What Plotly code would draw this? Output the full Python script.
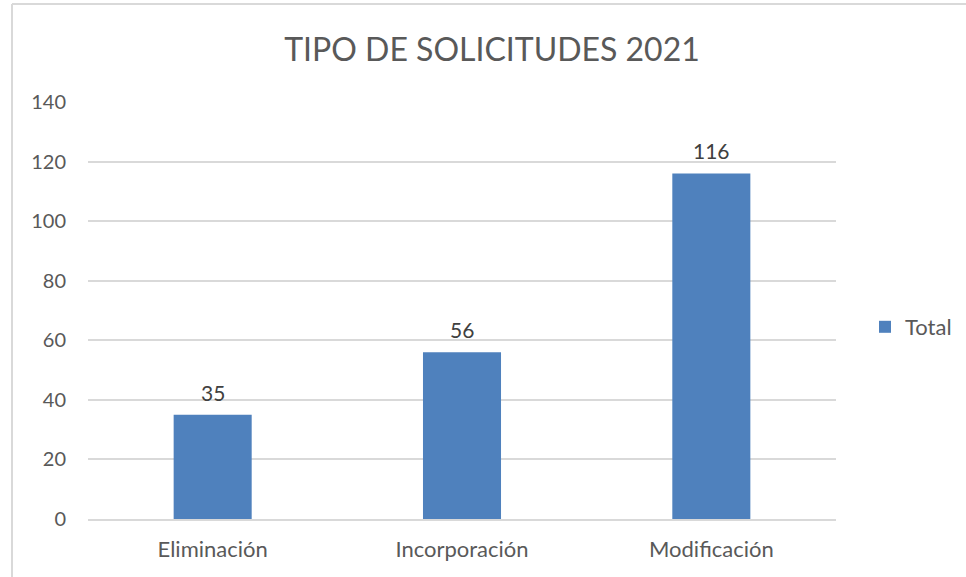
import plotly.graph_objects as go

categories = ["Eliminación", "Incorporación", "Modificación"]
totals = [35, 56, 116]
y_ticks = [0, 20, 40, 60, 80, 100, 120, 140]

W, H = 966, 577
L, R, T, B = 88, 130, 102, 58
pw, ph = W - L - R, H - T - B

fig = go.Figure()
fig.add_trace(go.Bar(
    x=categories, y=totals, name="Total",
    marker=dict(color="#4f81bd", line=dict(width=0)),
    width=0.313,
))

# value labels above each bar
for c, v in zip(categories, totals):
    fig.add_annotation(x=c, y=v, text=str(v), showarrow=False,
                       yanchor="bottom", yshift=8,
                       font=dict(family="Lato", size=21, color="#404040"))

# outer chart border (top and left edges visible)
bx = (12 - L) / pw
by = (H - B - 4) / ph
fig.add_shape(type="line", xref="paper", yref="paper", x0=bx, x1=2, y0=by, y1=by,
              line=dict(color="#d9d9d9", width=2))
fig.add_shape(type="line", xref="paper", yref="paper", x0=bx, x1=bx, y0=by, y1=-1,
              line=dict(color="#d9d9d9", width=2))

fig.update_layout(
    width=W, height=H,
    margin=dict(l=L, r=R, t=T, b=B, autoexpand=False),
    paper_bgcolor="white", plot_bgcolor="white",
    title=dict(text="TIPO DE SOLICITUDES 2021", x=492 / W, xanchor="center",
               y=1 - 50 / H, yanchor="middle",
               font=dict(family="Lato", size=32, color="#595959")),
    font=dict(family="Lato", color="#595959"),
    showlegend=True,
    legend=dict(x=(865 - L) / pw, y=(H - B - 327) / ph, xanchor="left", yanchor="middle",
                font=dict(family="Lato", size=22, color="#595959"),
                itemwidth=30, bgcolor="rgba(0,0,0,0)"),
    bargap=0.687,
)
fig.update_xaxes(showgrid=False, showline=True, linecolor="#d9d9d9", linewidth=1.5,
                 ticks="", tickfont=dict(family="Lato", size=22, color="#595959"),
                 ticklabelstandoff=10)
fig.update_yaxes(range=[0, 140], tickvals=y_ticks, showgrid=True, gridcolor="#d9d9d9",
                 gridwidth=1.5, zeroline=False, showline=False, ticks="",
                 tickfont=dict(family="Lato", size=20, color="#595959"),
                 ticklabelstandoff=21)

fig.write_html("out.html")
